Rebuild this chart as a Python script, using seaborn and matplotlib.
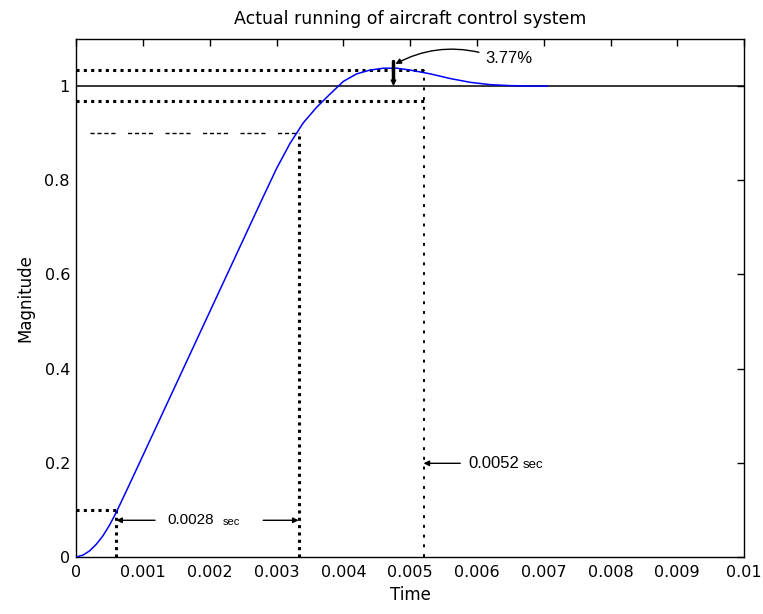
import matplotlib
matplotlib.use("Agg")
import matplotlib.pyplot as plt
import seaborn as sns
import pandas as pd

# ---- data ----
time = [0, 0.0001, 0.0002, 0.0003, 0.0004, 0.0005, 0.0006, 0.0008, 0.0010,
        0.0012, 0.0014, 0.0016, 0.0018, 0.0020, 0.0022, 0.0024, 0.0026,
        0.0028, 0.0030, 0.0032, 0.0034, 0.0036, 0.0038, 0.0040, 0.0042,
        0.0044, 0.0046, 0.0048, 0.0050, 0.0053, 0.0056, 0.0059, 0.0062,
        0.0065, 0.0068, 0.00706]
magnitude = [0, 0.004, 0.013, 0.027, 0.045, 0.068, 0.095, 0.155, 0.216,
             0.277, 0.338, 0.399, 0.460, 0.521, 0.582, 0.643, 0.704,
             0.765, 0.825, 0.878, 0.922, 0.955, 0.983, 1.010, 1.026,
             1.034, 1.038, 1.038, 1.034, 1.026, 1.016, 1.008, 1.003,
             1.001, 1.000, 1.000]

rise_start = 0.0006      # time at 10 %
rise_end = 0.00333       # time at 90 %
settle_time = 0.0052     # settling time
peak_time = 0.00475
level_10 = 0.1
level_90 = 0.9
peak_level = 1.034
band_low = 0.968
final_value = 1.0

rise_label = "0.0028"
settle_label = "0.0052"
overshoot_label = "3.77%"

x_ticks = [0, 0.001, 0.002, 0.003, 0.004, 0.005, 0.006, 0.007, 0.008, 0.009, 0.01]
x_tick_labels = ["0", "0.001", "0.002", "0.003", "0.004", "0.005", "0.006",
                 "0.007", "0.008", "0.009", "0.01"]
y_ticks = [0, 0.2, 0.4, 0.6, 0.8, 1.0]
y_tick_labels = ["0", "0.2", "0.4", "0.6", "0.8", "1"]

df = pd.DataFrame({"Time": time, "Magnitude": magnitude})

sns.set_style("white")
plt.rcParams["font.family"] = ["DejaVu Sans"]
plt.rcParams["text.color"] = "black"
plt.rcParams["axes.labelcolor"] = "black"
ann_font = ["Liberation Sans", "DejaVu Sans"]

fig = plt.figure(figsize=(7.63, 6.14), dpi=100)
ax = fig.add_axes([0.0999, 0.0928, 0.8753, 0.8437])

ax.axhline(final_value, color="black", lw=1.1, zorder=2)

sns.lineplot(data=df, x="Time", y="Magnitude", color="#0000ff", lw=1.1,
             ax=ax, zorder=4)

dot_thick = dict(color="black", lw=2.2, linestyle=(0, (1, 1.4)),
                 dash_capstyle="butt", zorder=3)
# 10 % marks
ax.plot([0, rise_start], [level_10, level_10], **dot_thick)
ax.plot([rise_start, rise_start], [0, level_10], **dot_thick)
# 90 % marks
ax.plot([rise_start * 0.35, rise_end], [level_90, level_90], color="black",
        lw=1.0, linestyle=(0, (3, 2, 3, 2, 3, 2, 3, 9)), zorder=3)
ax.plot([rise_end, rise_end], [0, level_90], **dot_thick)
# peak and band lines
ax.plot([0, settle_time], [peak_level, peak_level], **dot_thick)
ax.plot([0, settle_time], [band_low, band_low], **dot_thick)
# settling time vertical
ax.plot([settle_time, settle_time], [0, peak_level], color="black", lw=1.4,
        linestyle=(0, (1.5, 3.5)), dash_capstyle="butt", zorder=3)

arrow_kw = dict(arrowstyle="-|>", color="black", lw=1.0, mutation_scale=8,
                shrinkA=0, shrinkB=0)
# rise time arrows
y_arr = 0.078
ax.annotate("", xy=(rise_start, y_arr), xytext=(0.00118, y_arr), arrowprops=arrow_kw)
ax.annotate("", xy=(rise_end, y_arr), xytext=(0.0028, y_arr), arrowprops=arrow_kw)
ax.text(0.00137, y_arr, rise_label, fontsize=11, ha="left", va="center",
        family=ann_font, color="black")
ax.text(0.00220, y_arr - 0.003, "sec", fontsize=8, ha="left", va="center",
        family=ann_font, color="black")

# settling time arrow
y_set = 0.199
ax.annotate("", xy=(settle_time, y_set), xytext=(0.00575, y_set), arrowprops=arrow_kw)
ax.text(0.00587, y_set, settle_label, fontsize=12, ha="left", va="center",
        family=ann_font, color="black")
ax.text(0.00668, y_set - 0.003, "sec", fontsize=9.5, ha="left", va="center",
        family=ann_font, color="black")

# overshoot annotation
ax.plot([peak_time, peak_time], [1.015, 1.053], color="black", lw=2.5, zorder=5)
ax.annotate("", xy=(peak_time, final_value), xytext=(peak_time, 1.016),
            arrowprops=arrow_kw, zorder=5)
ax.annotate(overshoot_label, xy=(peak_time + 0.00003, 1.047),
            xytext=(0.00612, 1.059), fontsize=12, ha="left", va="center",
            family=ann_font, color="black",
            arrowprops=dict(arrowstyle="-|>", color="black", lw=1.0,
                            mutation_scale=8, shrinkA=2, shrinkB=0,
                            relpos=(0, 0.8),
                            connectionstyle="arc3,rad=0.2"))

ax.set_xlim(0, 0.01)
ax.set_ylim(0, 1.1)
ax.set_xticks(x_ticks)
ax.set_xticklabels(x_tick_labels)
ax.set_yticks(y_ticks)
ax.set_yticklabels(y_tick_labels)
ax.tick_params(direction="in", length=5, width=1, top=True, right=True,
               labelsize=11.5, colors="black")
ax.tick_params(axis="x", pad=6)
ax.tick_params(axis="y", pad=4.5)
for s in ax.spines.values():
    s.set_color("black")
    s.set_linewidth(1.0)

ax.set_xlabel("Time", fontsize=12, labelpad=4, color="black")
ax.set_ylabel("Magnitude", fontsize=12, labelpad=7, color="black")
ax.set_title("Actual running of aircraft control system", fontsize=12.5,
             pad=11, color="black")

fig.savefig("out.png", dpi=100)
